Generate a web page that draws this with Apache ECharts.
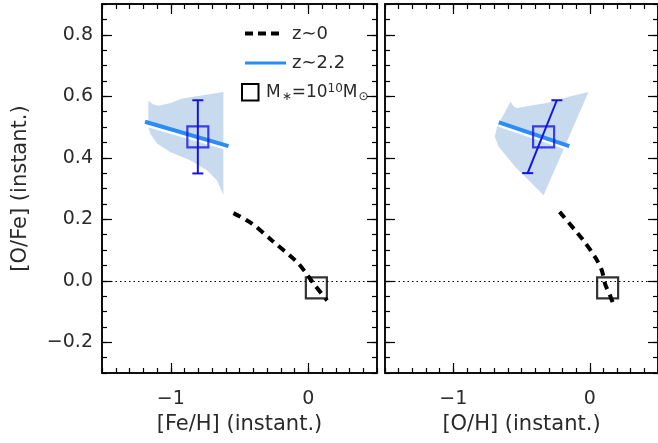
<!DOCTYPE html>
<html><head><meta charset="utf-8">
<script src="https://cdn.jsdelivr.net/npm/echarts@6/dist/echarts.min.js"></script>
<style>html,body{margin:0;padding:0;background:#fff}#c{width:658px;height:443px}</style>
</head><body><div id="c"></div>
<script>
// ---- data ----
const xMajorTicks = [-1, 0];
const yMajorTicks = [-0.2, 0, 0.2, 0.4, 0.6, 0.8];
const xTitles = ['[Fe/H] (instant.)', '[O/H] (instant.)'];
const yTitle = '[O/Fe] (instant.)';
const legendNames = ['z\u223C0', 'z\u223C2.2'];

// left panel: [Fe/H] vs [O/Fe]
const fehShade = [[-1.163,0.585],[-1.13,0.574],[-1.09,0.569],[-1.0,0.578],[-0.917,0.593],[-0.617,0.614],[-0.617,0.28],[-0.665,0.327],[-0.737,0.359],[-0.859,0.392],[-1.005,0.419],[-1.10,0.446],[-1.15,0.479],[-1.163,0.50]];
const fehZ22 = [[-1.187,0.517],[-0.580,0.438]];
const fehZ0 = [[-0.544,0.220],[-0.410,0.186],[-0.264,0.131],[-0.082,0.061],[-0.021,0.028],[0.040,-0.010],[0.137,-0.064]];
const fehSqZ22 = [[-0.803,0.468]];
const fehSqZ0 = [[0.059,-0.023]];
const fehErr = [[-0.803,0.349,-0.803,0.587]];

// right panel: [O/H] vs [O/Fe]
const ohShade = [[-0.581,0.582],[-0.555,0.566],[-0.533,0.562],[-0.45,0.568],[-0.326,0.577],[-0.155,0.598],[-0.009,0.614],[-0.338,0.278],[-0.545,0.370],[-0.666,0.435],[-0.696,0.468],[-0.679,0.500]];
const ohZ22 = [[-0.666,0.515],[-0.150,0.438]];
const ohZ0 = [[-0.221,0.224],[-0.107,0.164],[-0.046,0.131],[0.039,0.077],[0.088,0.034],[0.112,-0.010],[0.149,-0.048],[0.173,-0.077]];
const ohSqZ22 = [[-0.338,0.468]];
const ohSqZ0 = [[0.131,-0.023]];
const ohErr = [[-0.455,0.350,-0.241,0.587]];

// ---- style ----
const FONT = 'DejaVu Sans';
const TXT = '#2a2a2a';
const SHADE = '#c8dbee';
const LBLUE = '#2a8cf5';
const DBLUE = '#1414e0';
const minus = s => String(s).replace('-', '\u2212');

const grids = [
  {left: 102, top: 4, width: 275, height: 369},
  {left: 385, top: 4, width: 275, height: 369}
];
const XMIN = -1.5, XMAX = 0.5, YMIN = -0.3, YMAX = 0.9;
const axLine = {show: true, onZero: false, lineStyle: {color: '#000', width: 1.5}};
const tickStyle = {color: '#000', width: 1.2};

function xAxes(g) {
  const base = {type: 'value', gridIndex: g, min: XMIN, max: XMAX, splitLine: {show: false}, axisLine: axLine};
  return [
    Object.assign({}, base, {position: 'bottom', interval: 0.1,
      axisTick: {show: true, inside: true, length: 10, customValues: xMajorTicks, lineStyle: tickStyle},
      axisLabel: {show: true, customValues: xMajorTicks, formatter: v => minus(v), fontFamily: FONT, fontSize: 19, color: TXT, margin: 17},
      name: xTitles[g], nameLocation: 'middle', nameGap: 39,
      nameTextStyle: {fontFamily: FONT, fontSize: 21, color: TXT}}),
    Object.assign({}, base, {position: 'bottom', interval: 0.1,
      axisTick: {show: true, inside: true, length: 5, lineStyle: tickStyle}, axisLabel: {show: false}}),
    Object.assign({}, base, {position: 'top', interval: 0.1,
      axisTick: {show: true, inside: true, length: 10, customValues: xMajorTicks, lineStyle: tickStyle}, axisLabel: {show: false}}),
    Object.assign({}, base, {position: 'top', interval: 0.1,
      axisTick: {show: true, inside: true, length: 5, lineStyle: tickStyle}, axisLabel: {show: false}})
  ];
}
function yAxes(g) {
  const base = {type: 'value', gridIndex: g, min: YMIN, max: YMAX, splitLine: {show: false}, axisLine: axLine};
  const left = Object.assign({}, base, {position: 'left', interval: 0.05,
      axisTick: {show: true, inside: true, length: 10, customValues: yMajorTicks, lineStyle: tickStyle},
      axisLabel: {show: g === 0, customValues: yMajorTicks, formatter: v => minus(Number(v).toFixed(1)), fontFamily: FONT, fontSize: 19, color: TXT, margin: 9}});
  if (g === 0) {
    left.name = yTitle; left.nameLocation = 'middle'; left.nameGap = 71;
    left.nameTextStyle = {fontFamily: FONT, fontSize: 21, color: TXT};
  }
  return [
    left,
    Object.assign({}, base, {position: 'left', interval: 0.05,
      axisTick: {show: true, inside: true, length: 5, lineStyle: tickStyle}, axisLabel: {show: false}}),
    Object.assign({}, base, {position: 'right', interval: 0.05,
      axisTick: {show: true, inside: true, length: 10, customValues: yMajorTicks, lineStyle: tickStyle}, axisLabel: {show: false}}),
    Object.assign({}, base, {position: 'right', interval: 0.05,
      axisTick: {show: true, inside: true, length: 5, lineStyle: tickStyle}, axisLabel: {show: false}})
  ];
}

function shadeSeries(g, pts) {
  return {type: 'custom', xAxisIndex: g * 4, yAxisIndex: g * 4, data: pts, encode: {x: 0, y: 1}, z: 1, silent: true,
    renderItem: (params, api) => {
      if (params.dataIndex !== 0) return null;
      return {type: 'polygon', shape: {points: pts.map(p => api.coord(p))}, style: {fill: SHADE}};
    }};
}
function errSeries(g, data) {
  return {type: 'custom', xAxisIndex: g * 4, yAxisIndex: g * 4, data: data, encode: {x: [0, 2], y: [1, 3]}, z: 6, silent: true,
    renderItem: (params, api) => {
      const a = api.coord([api.value(0), api.value(1)]);
      const b = api.coord([api.value(2), api.value(3)]);
      const st = {stroke: DBLUE, lineWidth: 2};
      const c = 5.5;
      return {type: 'group', children: [
        {type: 'line', shape: {x1: a[0], y1: a[1], x2: b[0], y2: b[1]}, style: st},
        {type: 'line', shape: {x1: a[0] - c, y1: a[1], x2: a[0] + c, y2: a[1]}, style: st},
        {type: 'line', shape: {x1: b[0] - c, y1: b[1], x2: b[0] + c, y2: b[1]}, style: st}
      ]};
    }};
}
function panelSeries(g, shade, z22, z0, sq22, sq0, err) {
  const ax = {xAxisIndex: g * 4, yAxisIndex: g * 4};
  return [
    shadeSeries(g, shade),
    Object.assign({type: 'line', name: legendNames[1], data: z22, symbol: 'none', z: 3, silent: true,
      lineStyle: {color: LBLUE, width: 4, shadowColor: '#ffffff', shadowOffsetY: 2.5, shadowBlur: 0}}, ax),
    Object.assign({type: 'line', name: legendNames[0], data: z0, symbol: 'none', smooth: 0.3, z: 3, silent: true,
      lineStyle: {color: '#000', width: 4, type: [8, 6]},
      markLine: {silent: true, symbol: 'none', label: {show: false}, animation: false,
        lineStyle: {color: '#000', width: 1, type: [1.5, 3]}, data: [{yAxis: 0}]}}, ax),
    errSeries(g, err),
    Object.assign({type: 'scatter', data: sq22, symbol: 'rect', symbolSize: 21, z: 7, silent: true,
      itemStyle: {color: 'rgba(0,0,0,0)', borderColor: DBLUE, borderWidth: 2.2}}, ax),
    Object.assign({type: 'scatter', data: sq0, symbol: 'rect', symbolSize: 21, z: 7, silent: true,
      itemStyle: {color: 'rgba(0,0,0,0)', borderColor: '#000', borderWidth: 2.2}}, ax)
  ];
}

const chart = echarts.init(document.getElementById('c'), null, {renderer: 'canvas'});
chart.setOption({
  animation: false,
  backgroundColor: '#fff',
  grid: grids,
  xAxis: xAxes(0).concat(xAxes(1)),
  yAxis: yAxes(0).concat(yAxes(1)),
  series: panelSeries(0, fehShade, fehZ22, fehZ0, fehSqZ22, fehSqZ0, fehErr)
    .concat(panelSeries(1, ohShade, ohZ22, ohZ0, ohSqZ22, ohSqZ0, ohErr)),
  graphic: [
    {type: 'line', shape: {x1: 245, y1: 33.5, x2: 284, y2: 33.5}, style: {stroke: '#000', lineWidth: 4, lineDash: [8, 5]}},
    {type: 'text', x: 292, y: 34, style: {text: legendNames[0], font: '18px "DejaVu Sans"', fill: TXT, verticalAlign: 'middle'}},
    {type: 'line', shape: {x1: 245, y1: 63, x2: 286, y2: 63}, style: {stroke: LBLUE, lineWidth: 3}},
    {type: 'text', x: 292, y: 63, style: {text: legendNames[1], font: '18px "DejaVu Sans"', fill: TXT, verticalAlign: 'middle'}},
    {type: 'rect', shape: {x: 242, y: 84, width: 16.5, height: 16.5}, style: {stroke: '#000', lineWidth: 2, fill: 'none'}},
    {type: 'text', x: 266, y: 93, style: {
      text: '{m|M}{s|\u2217}{m|=10}{p|10}{m|M}{s|\u2299}',
      verticalAlign: 'middle', fill: TXT,
      rich: {
        m: {fontFamily: FONT, fontSize: 17, color: TXT, verticalAlign: 'middle'},
        s: {fontFamily: FONT, fontSize: 12, color: TXT, padding: [8, 0, 0, 1]},
        p: {fontFamily: FONT, fontSize: 12, color: TXT, padding: [0, 0, 9, 0]}
      }}}
  ]
});
</script>
</body></html>
